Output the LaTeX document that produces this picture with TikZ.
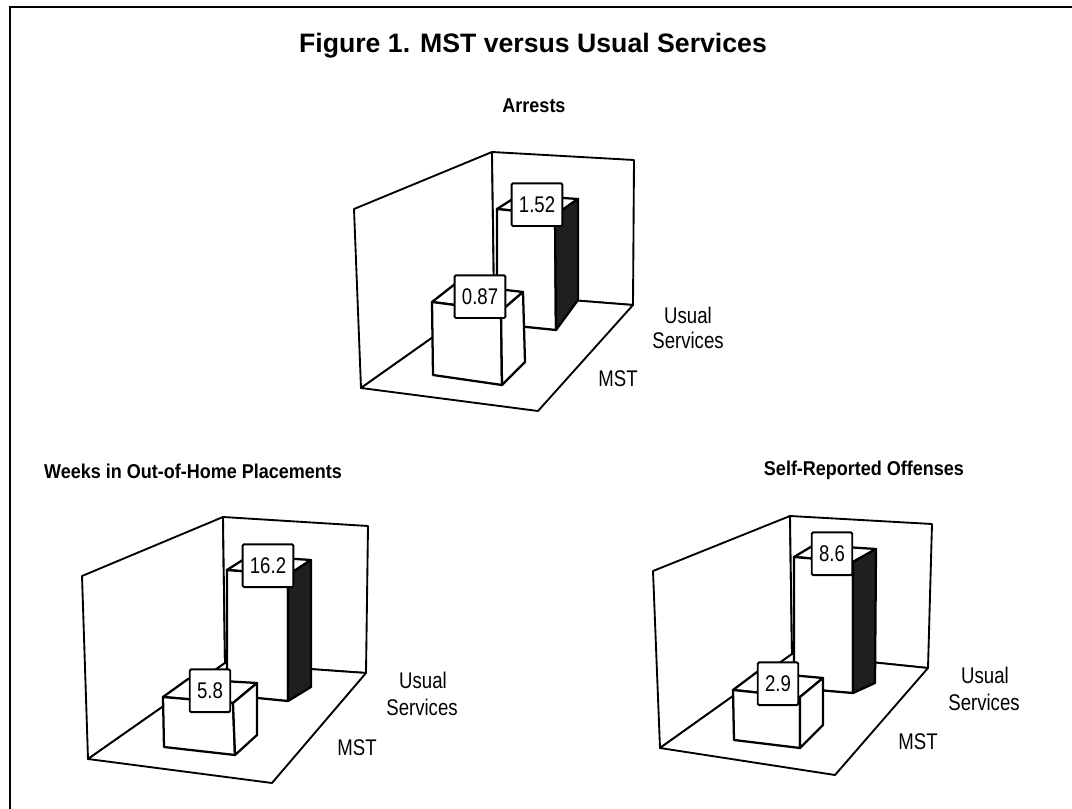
\documentclass[tikz,border=0pt]{standalone}
\usepackage{fontspec}
\setmainfont{Liberation Sans}
\newfontfamily\narrowsans[FakeStretch=0.82]{Liberation Sans}
\newfontfamily\headsans[FakeStretch=0.9]{Liberation Sans}
\usetikzlibrary{positioning}

\begin{document}
\begin{tikzpicture}[x=0.75pt,y=-0.75pt,
  wall/.style={draw=black,line width=1.4pt,fill=white,line join=round},
  face/.style={draw=black,line width=1.7pt,fill=white,line join=round},
  darkface/.style={draw=black,line width=1.7pt,fill=black!88,line join=round},
  valbox/.style={draw=black,line width=1.4pt,fill=white,rounded corners=1pt,inner xsep=5.5pt,minimum height=32pt,font=\narrowsans\fontsize{17}{20}\selectfont},
  catlabel/.style={inner sep=0pt,font=\narrowsans\fontsize{17}{20}\selectfont},
  charttitle/.style={inner sep=0pt,font=\headsans\bfseries\fontsize{15}{18}\selectfont}]
\useasboundingbox (0,0) rectangle (1072,809);
% frame and heading
\draw[line width=1.5pt] (10,809) -- (10,7) -- (1072,7);
\node[inner sep=0pt,font=\bfseries\fontsize{20}{24}\selectfont] (figtitle) at (533,46) {Figure 1. MST versus Usual Services};
% Arrests
\node[charttitle] (arrests) at (534,106) {Arrests};
\filldraw[wall] (354,209) -- (492,152) -- (494,294) -- (361,388) -- cycle; % left wall
\filldraw[wall] (492,152) -- (634,160) -- (633,305) -- (494,294) -- cycle; % back wall
\filldraw[wall] (361,388) -- (494,294) -- (633,305) -- (538,411) -- cycle; % floor
\filldraw[face] (497,209) -- (519,195) -- (578,199) -- (555,215) -- cycle; % usual top
\filldraw[face] (497,209) -- (555,215) -- (556,330) -- (497,324) -- cycle; % usual front
\filldraw[darkface] (555,215) -- (578,199) -- (578,300) -- (556,330) -- cycle; % usual side
\filldraw[face] (432,302) -- (455,284) -- (523,292) -- (501,311) -- cycle; % mst top
\filldraw[face] (432,302) -- (501,311) -- (502,385) -- (433,375) -- cycle; % mst front
\filldraw[face] (501,311) -- (523,292) -- (525,362) -- (502,385) -- cycle; % mst side
\node[valbox,above = 0mm of {(537,227)}] (a152) {1.52};
\node[valbox,above = 0mm of {(480,319)}] (a087) {0.87};
\node[catlabel] (ausual) at (688,315) {Usual};
\node[catlabel] (aserv) at (688,340) {Services};
\node[catlabel] (amst) at (618,379) {MST};
% Weeks in placements
\node[charttitle] (weeks) at (193,471) {Weeks in Out-of-Home Placements};
\filldraw[wall] (82,576) -- (223,517) -- (225,663) -- (88,759) -- cycle; % left wall
\filldraw[wall] (223,517) -- (368,526) -- (366,673) -- (225,663) -- cycle; % back wall
\filldraw[wall] (88,759) -- (225,663) -- (366,673) -- (272,783) -- cycle; % floor
\filldraw[face] (227,570) -- (249,556) -- (311,560) -- (288,575) -- cycle; % usual top
\filldraw[face] (227,570) -- (288,575) -- (288,701) -- (227,695) -- cycle; % usual front
\filldraw[darkface] (288,575) -- (311,560) -- (311,687) -- (288,701) -- cycle; % usual side
\filldraw[face] (163,697) -- (188,679) -- (257,683) -- (233,703) -- cycle; % mst top
\filldraw[face] (163,697) -- (233,703) -- (235,755) -- (164,747) -- cycle; % mst front
\filldraw[face] (233,703) -- (257,683) -- (257,735) -- (235,755) -- cycle; % mst side
\node[valbox,above = 0mm of {(268,588)}] (w162) {16.2};
\node[valbox,above = 0mm of {(210,713)}] (w58) {5.8};
\node[catlabel] (wusual) at (423,680) {Usual};
\node[catlabel] (wserv) at (422,707) {Services};
\node[catlabel] (wmst) at (357,748) {MST};
% Self-reported offenses
\node[charttitle] (offenses) at (864,470) {Self-Reported Offenses};
\filldraw[wall] (653,571) -- (790,516) -- (792,654) -- (660,748) -- cycle; % left wall
\filldraw[wall] (790,516) -- (932,524) -- (928,668) -- (792,654) -- cycle; % back wall
\filldraw[wall] (660,748) -- (792,654) -- (928,668) -- (835,775) -- cycle; % floor
\filldraw[face] (794,557) -- (814,545) -- (876,549) -- (853,562) -- cycle; % usual top
\filldraw[face] (794,557) -- (853,562) -- (853,693) -- (794,688) -- cycle; % usual front
\filldraw[darkface] (853,562) -- (876,549) -- (875,683) -- (853,693) -- cycle; % usual side
\filldraw[face] (733,690) -- (757,672) -- (823,678) -- (800,697) -- cycle; % mst top
\filldraw[face] (733,690) -- (800,697) -- (800,748) -- (734,740) -- cycle; % mst front
\filldraw[face] (800,697) -- (823,678) -- (823,725) -- (800,748) -- cycle; % mst side
\node[valbox,above = 0mm of {(832,576)}] (s86) {8.6};
\node[valbox,above = 0mm of {(778,706)}] (s29) {2.9};
\node[catlabel] (susual) at (985,675) {Usual};
\node[catlabel] (sserv) at (984,702) {Services};
\node[catlabel] (smst) at (918,742) {MST};
\end{tikzpicture}
\end{document}
